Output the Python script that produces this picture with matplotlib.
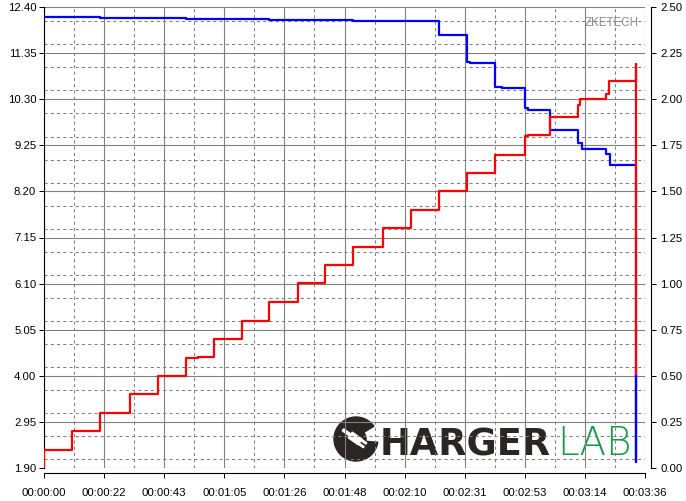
import matplotlib
matplotlib.use("Agg")
import matplotlib.pyplot as plt
from matplotlib.ticker import MultipleLocator, FixedLocator
from matplotlib.patches import Circle, Wedge, Rectangle
import matplotlib.transforms as mtransforms

plt.rcParams["font.family"] = ["Liberation Sans", "DejaVu Sans"]

# Voltage (left axis, blue) - step samples, seconds
volt_t = [0, 20.1, 50.9, 80.9, 111.2, 142.0, 152.0, 153.2, 162.0, 164.5,
          173.0, 173.8, 182.0, 192.0, 193.2, 202.0, 203.3, 212.8, 212.8]
volt_v = [12.18, 12.16, 12.13, 12.10, 12.08, 11.77, 11.15, 11.13, 10.57, 10.55,
          10.11, 10.06, 9.60, 9.31, 9.17, 9.06, 8.81, 2.04, 4.06]

# Current (right axis, red)
curr_t = [0, 0, 10.2, 20.1, 30.9, 41.0, 50.9, 55.5, 61.0, 71.3, 81.0, 91.2,
          101.1, 111.2, 121.8, 131.9, 142.0, 152.0, 162.0, 173.0, 173.9, 182.0,
          192.0, 192.6, 202.0, 203.0, 212.8, 212.8]
curr_a = [0.0, 0.098, 0.202, 0.30, 0.403, 0.50, 0.597, 0.604, 0.70, 0.797,
          0.899, 1.002, 1.099, 1.198, 1.30, 1.40, 1.502, 1.598, 1.699, 1.799,
          1.804, 1.902, 1.97, 2.00, 2.03, 2.10, 2.19, 0.51]

# axis ticks
x_ticks = [0, 21.6, 43.2, 64.8, 86.4, 108.0, 129.6, 151.2, 172.8, 194.4, 216.0]
x_labels = ["00:00:00", "00:00:22", "00:00:43", "00:01:05", "00:01:26", "00:01:48",
            "00:02:10", "00:02:31", "00:02:53", "00:03:14", "00:03:36"]
v_ticks = [1.90, 2.95, 4.00, 5.05, 6.10, 7.15, 8.20, 9.25, 10.30, 11.35, 12.40]
a_ticks = [0.00, 0.25, 0.50, 0.75, 1.00, 1.25, 1.50, 1.75, 2.00, 2.25, 2.50]

W, H = 686, 501
fig = plt.figure(figsize=(W / 100, H / 100), dpi=100)
ax = fig.add_axes([44 / W, (H - 468) / H, (645 - 44) / W, (468 - 7) / H])
ax2 = ax.twinx()

fs = 8.2
grid_c = "#808080"

ax.set_xlim(0, 216)
ax.set_ylim(1.90, 12.40)
ax2.set_ylim(0, 2.5)

ax.xaxis.set_major_locator(FixedLocator(x_ticks))
ax.set_xticklabels(x_labels)
ax.xaxis.set_minor_locator(MultipleLocator(10.8))
ax.yaxis.set_major_locator(FixedLocator(v_ticks))
ax.set_yticklabels(["%.2f" % v for v in v_ticks])
ax.yaxis.set_minor_locator(MultipleLocator(0.525))
ax2.yaxis.set_major_locator(FixedLocator(a_ticks))
ax2.set_yticklabels(["%.2f" % a for a in a_ticks])

ax.set_axisbelow(True)
ax.grid(which="major", color=grid_c, lw=0.8, ls="-")
ax.grid(which="minor", color=grid_c, lw=0.75, ls=(0, (3, 3)))

ax.tick_params(which="major", length=3.6, width=0.72, color="black", pad=2, labelsize=fs)
ax.tick_params(axis="x", which="major", pad=7)
ax.tick_params(which="minor", length=0)
ax2.tick_params(which="major", length=3.6, width=0.72, color="black", pad=3, labelsize=fs)

for a in (ax, ax2):
    a.spines["top"].set_visible(False)
    for s in a.spines.values():
        s.set_linewidth(0.8)
ax.spines["right"].set_visible(False)
ax.spines["bottom"].set_position(("outward", 3.6))
ax2.spines["left"].set_visible(False)
ax2.spines["bottom"].set_visible(False)
ax2.spines["right"].set_position(("outward", 4.3))

ax.step(volt_t, volt_v, where="post", color="#0000ff", lw=1.6, zorder=3)
ax2.step(curr_t, curr_a, where="post", color="#ff0000", lw=1.6, zorder=3)

# watermark texts
fig.text(639 / W, (H - 23.5) / H, "ZKETECH", ha="right", va="center",
         fontsize=8.3, color="#8a8a8a")

inch = fig.dpi_scale_trans
cx, cy = 356 / 100, (H - 439) / 100
logo_c = "#2b2523"
ax.add_patch(Circle((cx, cy), 0.22, transform=inch, color=logo_c, clip_on=False, zorder=0.2))
ax.add_patch(Wedge((cx, cy), 0.235, -5, 32, width=0.12, transform=inch, color="white",
                   clip_on=False, zorder=0.25))
rot = mtransforms.Affine2D().rotate_deg_around(cx, cy, -35) + inch
ax.add_patch(Rectangle((cx - 0.07, cy - 0.035), 0.12, 0.07, transform=rot, color="white",
                       clip_on=False, zorder=0.25))
ax.add_patch(Rectangle((cx + 0.05, cy - 0.03), 0.06, 0.015, transform=rot, color="white",
                       clip_on=False, zorder=0.25))
ax.add_patch(Rectangle((cx + 0.05, cy + 0.015), 0.06, 0.015, transform=rot, color="white",
                       clip_on=False, zorder=0.25))
ax.add_patch(Rectangle((cx - 0.16, cy - 0.012), 0.1, 0.024, transform=rot, color="white",
                       clip_on=False, zorder=0.25))

ax.text(380 / W, (H - 455) / H, "HARGER", transform=fig.transFigure, ha="left",
        va="baseline", fontfamily="DejaVu Sans", fontweight="bold", fontsize=26.5,
        color=logo_c, zorder=0.2, clip_on=False)
ax.text(557 / W, (H - 455) / H, "LAB", transform=fig.transFigure, ha="left",
        va="baseline", fontfamily="DejaVu Sans", fontweight="light", fontsize=28,
        color="#1a9a48", zorder=0.2, clip_on=False)

fig.savefig("out.png", dpi=100)
